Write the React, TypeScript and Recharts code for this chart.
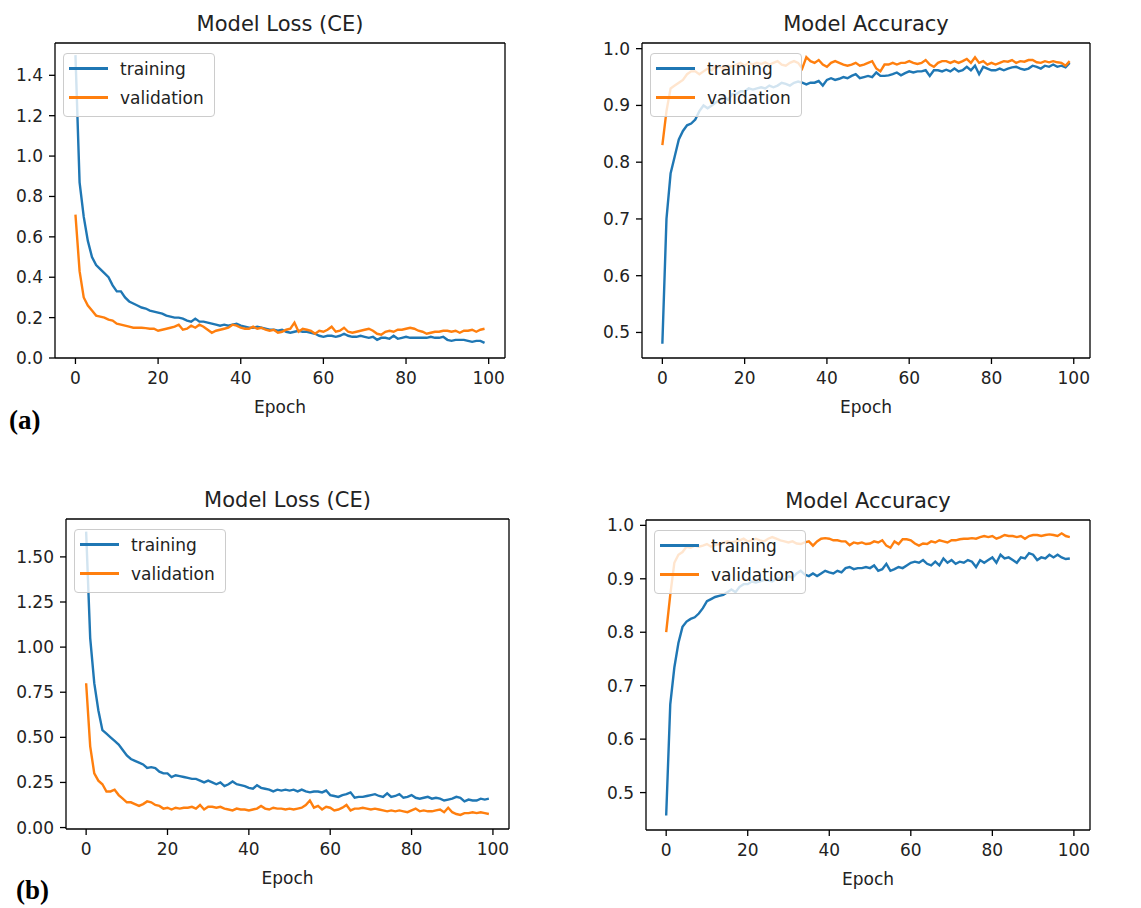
import { LineChart, Line, XAxis, YAxis, Legend, ReferenceLine } from 'recharts'

// epochs 0..99 on the x axis
const epochs = Array.from({ length: 100 }, (_, i) => i)
const xTicks = [0, 20, 40, 60, 80, 100]
const lossTicksA = [0, 0.2, 0.4, 0.6, 0.8, 1.0, 1.2, 1.4]
const lossTicksB = [0, 0.25, 0.5, 0.75, 1.0, 1.25, 1.5]
const accTicks = [0.5, 0.6, 0.7, 0.8, 0.9, 1.0]

const lossTrainA = [
  1.5, 0.87, 0.7, 0.58, 0.5, 0.46, 0.44, 0.42, 0.4, 0.36,
  0.33, 0.33, 0.3, 0.28, 0.27, 0.26, 0.25, 0.245, 0.235, 0.23,
  0.225, 0.22, 0.21, 0.205, 0.2, 0.2, 0.195, 0.185, 0.18, 0.195,
  0.18, 0.18, 0.175, 0.17, 0.165, 0.16, 0.165, 0.16, 0.165, 0.17,
  0.16, 0.155, 0.15, 0.15, 0.155, 0.15, 0.145, 0.14, 0.14, 0.135,
  0.14, 0.13, 0.125, 0.13, 0.135, 0.13, 0.13, 0.125, 0.12, 0.11,
  0.105, 0.11, 0.11, 0.105, 0.11, 0.12, 0.11, 0.105, 0.105, 0.11,
  0.105, 0.1, 0.105, 0.09, 0.1, 0.1, 0.095, 0.11, 0.095, 0.1,
  0.105, 0.1, 0.1, 0.1, 0.1, 0.1, 0.105, 0.1, 0.1, 0.105,
  0.09, 0.085, 0.09, 0.09, 0.09, 0.085, 0.08, 0.085, 0.085, 0.075,
]
const lossValA = [
  0.71, 0.43, 0.3, 0.26, 0.235, 0.21, 0.205, 0.2, 0.19, 0.185,
  0.17, 0.165, 0.16, 0.155, 0.15, 0.15, 0.15, 0.148, 0.145, 0.145,
  0.135, 0.14, 0.145, 0.15, 0.155, 0.165, 0.14, 0.145, 0.16, 0.15,
  0.165, 0.155, 0.14, 0.125, 0.135, 0.14, 0.145, 0.15, 0.165, 0.16,
  0.15, 0.145, 0.145, 0.155, 0.145, 0.15, 0.14, 0.135, 0.14, 0.125,
  0.13, 0.14, 0.145, 0.175, 0.13, 0.145, 0.14, 0.135, 0.12, 0.135,
  0.13, 0.14, 0.155, 0.13, 0.135, 0.15, 0.13, 0.125, 0.13, 0.135,
  0.14, 0.145, 0.135, 0.12, 0.115, 0.13, 0.135, 0.13, 0.14, 0.14,
  0.145, 0.15, 0.145, 0.135, 0.13, 0.12, 0.125, 0.13, 0.13, 0.135,
  0.135, 0.13, 0.135, 0.125, 0.135, 0.135, 0.14, 0.13, 0.14, 0.145,
]
const accTrainA = [
  0.48, 0.7, 0.78, 0.81, 0.84, 0.855, 0.865, 0.868, 0.875, 0.89,
  0.9, 0.895, 0.9, 0.905, 0.91, 0.915, 0.91, 0.92, 0.92, 0.925,
  0.925, 0.93, 0.928, 0.93, 0.932, 0.93, 0.935, 0.932, 0.935, 0.94,
  0.938, 0.935, 0.94, 0.942, 0.94, 0.937, 0.94, 0.94, 0.943, 0.935,
  0.945, 0.948, 0.945, 0.947, 0.95, 0.948, 0.952, 0.955, 0.948, 0.95,
  0.952, 0.95, 0.958, 0.952, 0.952, 0.953, 0.955, 0.958, 0.953, 0.957,
  0.96, 0.958, 0.96, 0.96, 0.962, 0.952, 0.962, 0.962, 0.96, 0.963,
  0.96, 0.965, 0.96, 0.962, 0.968, 0.962, 0.97, 0.955, 0.968, 0.965,
  0.962, 0.962, 0.965, 0.962, 0.965, 0.967, 0.968, 0.965, 0.963, 0.965,
  0.97, 0.968, 0.965, 0.97, 0.968, 0.972, 0.968, 0.97, 0.967, 0.975,
]
const accValA = [
  0.83, 0.89, 0.93, 0.935, 0.94, 0.945, 0.955, 0.96, 0.96, 0.955,
  0.96, 0.965, 0.962, 0.97, 0.968, 0.965, 0.97, 0.968, 0.972, 0.975,
  0.97, 0.975, 0.972, 0.975, 0.973, 0.976, 0.972, 0.975, 0.978, 0.972,
  0.97, 0.975, 0.978, 0.975, 0.965, 0.985, 0.978, 0.975, 0.98, 0.972,
  0.968, 0.975, 0.978, 0.975, 0.972, 0.97, 0.972, 0.975, 0.97, 0.972,
  0.975, 0.978, 0.965, 0.96, 0.972, 0.972, 0.975, 0.972, 0.975, 0.975,
  0.978, 0.975, 0.973, 0.975, 0.98, 0.972, 0.968, 0.975, 0.978, 0.978,
  0.975, 0.978, 0.975, 0.978, 0.982, 0.975, 0.985, 0.975, 0.978, 0.972,
  0.975, 0.972, 0.975, 0.978, 0.977, 0.98, 0.975, 0.978, 0.977, 0.98,
  0.98, 0.976, 0.975, 0.978, 0.976, 0.978, 0.976, 0.975, 0.97, 0.978,
]
const lossTrainB = [
  1.64, 1.05, 0.8, 0.65, 0.54, 0.52, 0.5, 0.48, 0.46, 0.43,
  0.4, 0.38, 0.37, 0.36, 0.35, 0.33, 0.335, 0.33, 0.31, 0.3,
  0.3, 0.28, 0.29, 0.285, 0.28, 0.275, 0.27, 0.27, 0.26, 0.25,
  0.26, 0.25, 0.24, 0.25, 0.23, 0.24, 0.255, 0.24, 0.235, 0.23,
  0.22, 0.215, 0.235, 0.22, 0.215, 0.21, 0.2, 0.21, 0.205, 0.21,
  0.205, 0.21, 0.2, 0.21, 0.2, 0.195, 0.2, 0.2, 0.195, 0.205,
  0.18, 0.175, 0.17, 0.18, 0.185, 0.195, 0.165, 0.17, 0.17, 0.175,
  0.18, 0.185, 0.175, 0.17, 0.19, 0.17, 0.175, 0.185, 0.165, 0.17,
  0.18, 0.165, 0.16, 0.165, 0.17, 0.16, 0.165, 0.16, 0.15, 0.155,
  0.16, 0.17, 0.165, 0.145, 0.155, 0.15, 0.15, 0.16, 0.155, 0.16,
]
const lossValB = [
  0.8, 0.45, 0.3, 0.26, 0.24, 0.2, 0.2, 0.21, 0.18, 0.16,
  0.14, 0.14, 0.13, 0.12, 0.13, 0.145, 0.14, 0.125, 0.12, 0.105,
  0.11, 0.1, 0.11, 0.105, 0.11, 0.11, 0.115, 0.105, 0.125, 0.1,
  0.115, 0.115, 0.11, 0.115, 0.105, 0.1, 0.095, 0.105, 0.1, 0.1,
  0.095, 0.1, 0.105, 0.12, 0.105, 0.1, 0.11, 0.105, 0.105, 0.1,
  0.105, 0.1, 0.105, 0.11, 0.125, 0.15, 0.11, 0.12, 0.1, 0.115,
  0.11, 0.095, 0.1, 0.11, 0.125, 0.095, 0.105, 0.105, 0.11, 0.105,
  0.1, 0.105, 0.1, 0.095, 0.09, 0.095, 0.09, 0.095, 0.09, 0.085,
  0.095, 0.105, 0.09, 0.095, 0.09, 0.09, 0.095, 0.1, 0.085, 0.11,
  0.085, 0.075, 0.07, 0.08, 0.08, 0.085, 0.08, 0.085, 0.08, 0.075,
]
const accTrainB = [
  0.457, 0.665, 0.734, 0.78, 0.81, 0.82, 0.825, 0.828, 0.835, 0.845,
  0.858, 0.862, 0.866, 0.868, 0.87, 0.875, 0.88, 0.875, 0.885, 0.89,
  0.89, 0.895, 0.893, 0.895, 0.898, 0.897, 0.895, 0.9, 0.902, 0.898,
  0.905, 0.902, 0.91, 0.915, 0.908, 0.905, 0.91, 0.905, 0.91, 0.915,
  0.912, 0.91, 0.915, 0.912, 0.92, 0.922, 0.918, 0.92, 0.92, 0.922,
  0.92, 0.925, 0.915, 0.918, 0.928, 0.915, 0.918, 0.922, 0.92, 0.925,
  0.93, 0.932, 0.93, 0.935, 0.928, 0.925, 0.932, 0.925, 0.938, 0.93,
  0.935, 0.928, 0.932, 0.93, 0.935, 0.932, 0.922, 0.935, 0.93, 0.935,
  0.94, 0.93, 0.945, 0.938, 0.94, 0.935, 0.93, 0.94, 0.938, 0.948,
  0.945, 0.935, 0.94, 0.938, 0.945, 0.94, 0.945, 0.94, 0.937, 0.938,
]
const accValB = [
  0.8, 0.87, 0.93, 0.945, 0.95, 0.96, 0.958, 0.962, 0.96, 0.962,
  0.965, 0.96, 0.963, 0.965, 0.967, 0.97, 0.968, 0.97, 0.972, 0.975,
  0.97, 0.972, 0.975, 0.972, 0.97, 0.975, 0.978, 0.975, 0.972, 0.97,
  0.968, 0.97, 0.966, 0.965, 0.968, 0.97, 0.962, 0.97, 0.975, 0.976,
  0.975, 0.972, 0.972, 0.97, 0.97, 0.963, 0.968, 0.966, 0.968, 0.965,
  0.966, 0.97, 0.968, 0.972, 0.962, 0.958, 0.97, 0.965, 0.974, 0.974,
  0.972, 0.966, 0.962, 0.966, 0.965, 0.97, 0.968, 0.972, 0.97, 0.968,
  0.972, 0.972, 0.974, 0.975, 0.975, 0.976, 0.975, 0.978, 0.98, 0.978,
  0.98, 0.975, 0.978, 0.982, 0.98, 0.98, 0.978, 0.98, 0.975, 0.98,
  0.982, 0.982, 0.98, 0.982, 0.983, 0.982, 0.98, 0.985, 0.98, 0.978,
]

const FONT = '"DejaVu Sans", sans-serif'
const BLUE = '#1f77b4'
const ORANGE = '#ff7f0e'
const TEXT = '#222'
const Y_AXIS_W = 60
const TOP = 10
const X_AXIS_H = 62
const X_DOMAIN: [number, number] = [-4.95, 103.95]

type Frame = { x0: number; y0: number; x1: number; y1: number }

interface PanelProps {
  frame: Frame
  title: string
  train: number[]
  val: number[]
  yDomain: [number, number]
  yTicks: number[]
  digits: number
}

const renderLegend = (props: any) => (
  <div
    style={{
      display: 'inline-block',
      background: 'rgba(255,255,255,0.8)',
      border: '1px solid #cccccc',
      borderRadius: 4,
      padding: '0 10px 4px 5px',
      fontSize: 17,
      fontFamily: FONT,
      color: TEXT,
    }}
  >
    {(props.payload ?? []).map((p: any) => (
      <div key={p.value} style={{ display: 'flex', alignItems: 'center', height: 29 }}>
        <span style={{ display: 'inline-block', width: 39, height: 2.5, background: p.color, marginRight: 12 }} />
        <span>{p.value}</span>
      </div>
    ))}
  </div>
)

function Panel({ frame, title, train, val, yDomain, yTicks, digits }: PanelProps) {
  const data = epochs.map((e, i) => ({ epoch: e, training: train[i], validation: val[i] }))
  const plotW = frame.x1 - frame.x0
  const plotH = frame.y1 - frame.y0
  const tickStyle = { fill: TEXT, fontSize: 17, fontFamily: FONT }
  const spine = { stroke: '#000', strokeWidth: 1.3 }

  return (
    <>
      <div
        style={{
          position: 'absolute',
          left: frame.x0,
          width: plotW,
          top: frame.y0 - 29,
          textAlign: 'center',
          fontSize: 21,
          lineHeight: '21px',
          color: TEXT,
        }}
      >
        {title}
      </div>
      <div style={{ position: 'absolute', left: frame.x0 - Y_AXIS_W, top: frame.y0 - TOP }}>
        <LineChart
          width={Y_AXIS_W + plotW + 2}
          height={TOP + plotH + X_AXIS_H}
          data={data}
          margin={{ top: TOP, right: 2, bottom: 0, left: 0 }}
        >
          <XAxis
            dataKey="epoch"
            type="number"
            domain={X_DOMAIN}
            allowDataOverflow
            ticks={xTicks}
            interval={0}
            height={X_AXIS_H}
            tick={tickStyle}
            tickSize={6}
            tickMargin={8}
            axisLine={spine}
            tickLine={spine}
            label={{ value: 'Epoch', position: 'insideBottom', offset: X_AXIS_H - 55, fill: TEXT, fontSize: 17 }}
          />
          <YAxis
            type="number"
            domain={yDomain}
            allowDataOverflow
            ticks={yTicks}
            interval={0}
            width={Y_AXIS_W}
            tick={tickStyle}
            tickSize={6}
            tickMargin={6}
            tickFormatter={(v: number) => v.toFixed(digits)}
            axisLine={spine}
            tickLine={spine}
          />
          {/* top and right spines */}
          <ReferenceLine y={yDomain[1]} {...spine} />
          <ReferenceLine x={X_DOMAIN[1]} {...spine} />
          <Line
            type="linear"
            dataKey="training"
            name="training"
            stroke={BLUE}
            strokeWidth={2.4}
            dot={false}
            isAnimationActive={false}
          />
          <Line
            type="linear"
            dataKey="validation"
            name="validation"
            stroke={ORANGE}
            strokeWidth={2.4}
            dot={false}
            isAnimationActive={false}
          />
          <Legend
            layout="horizontal"
            verticalAlign="middle"
            align="center"
            content={renderLegend}
            wrapperStyle={{ left: Y_AXIS_W + 8, top: TOP + 10, width: 'auto' }}
          />
        </LineChart>
      </div>
    </>
  )
}

export default function App() {
  return (
    <div
      style={{
        position: 'absolute',
        left: 0,
        top: 0,
        width: 1141,
        height: 908,
        background: '#fff',
        fontFamily: FONT,
      }}
    >
      <Panel
        frame={{ x0: 55, y0: 43, x1: 505, y1: 358 }}
        title="Model Loss (CE)"
        train={lossTrainA}
        val={lossValA}
        yDomain={[0, 1.56]}
        yTicks={lossTicksA}
        digits={1}
      />
      <Panel
        frame={{ x0: 642, y0: 43, x1: 1090, y1: 358 }}
        title="Model Accuracy"
        train={accTrainA}
        val={accValA}
        yDomain={[0.455, 1.01]}
        yTicks={accTicks}
        digits={1}
      />
      <Panel
        frame={{ x0: 66, y0: 519, x1: 509, y1: 829 }}
        title="Model Loss (CE)"
        train={lossTrainB}
        val={lossValB}
        yDomain={[-0.008, 1.71]}
        yTicks={lossTicksB}
        digits={2}
      />
      <Panel
        frame={{ x0: 646, y0: 520, x1: 1090, y1: 830 }}
        title="Model Accuracy"
        train={accTrainB}
        val={accValB}
        yDomain={[0.43, 1.01]}
        yTicks={accTicks}
        digits={1}
      />
      <div
        style={{
          position: 'absolute',
          left: 9,
          top: 407,
          fontFamily: '"Liberation Serif", serif',
          fontWeight: 'bold',
          fontSize: 27,
          lineHeight: '27px',
          color: '#000',
        }}
      >
        (a)
      </div>
      <div
        style={{
          position: 'absolute',
          left: 16,
          top: 877,
          fontFamily: '"Liberation Serif", serif',
          fontWeight: 'bold',
          fontSize: 27,
          lineHeight: '27px',
          color: '#000',
        }}
      >
        (b)
      </div>
    </div>
  )
}
